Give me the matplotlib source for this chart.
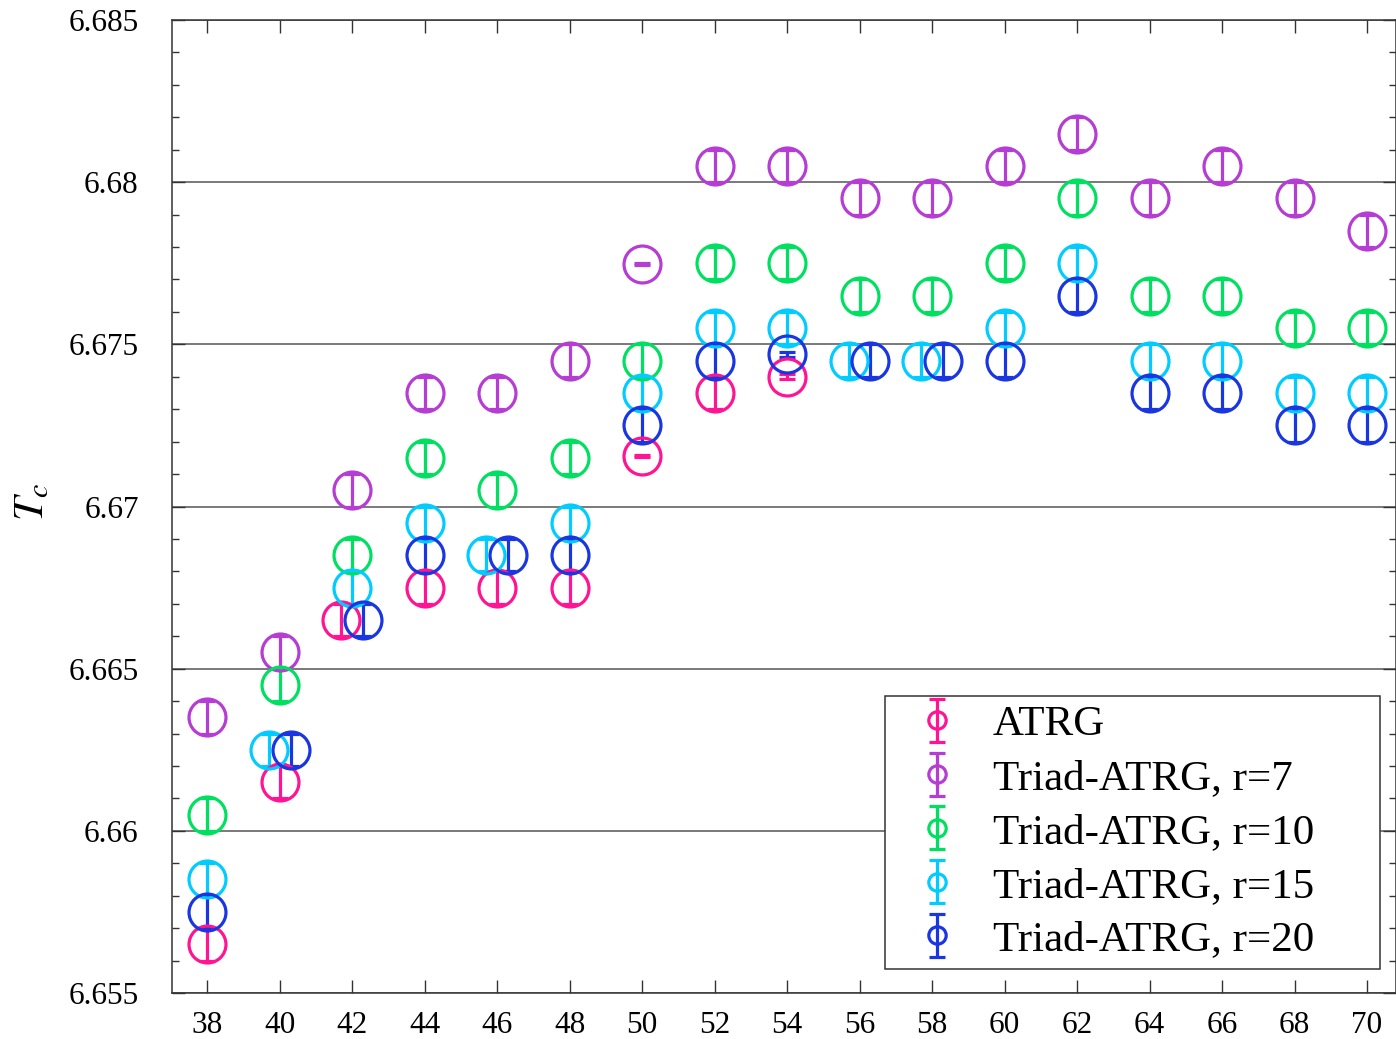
import numpy as np
import matplotlib
matplotlib.use("Agg")
import matplotlib.pyplot as plt
from matplotlib.ticker import MultipleLocator, FuncFormatter

plt.rcParams['font.family'] = ['Liberation Serif', 'DejaVu Serif']
plt.rcParams['mathtext.fontset'] = 'stix'

# --- data ---
labels = ['ATRG', 'Triad-ATRG, r=7', 'Triad-ATRG, r=10', 'Triad-ATRG, r=15', 'Triad-ATRG, r=20']
colors = ['#ff1493', '#b63dd4', '#00e060', '#00ccff', '#1a36e0']

atrg_x = [38, 40, 41.7, 44, 46, 48, 50, 52, 54]
atrg_y = [6.6565, 6.6615, 6.6665, 6.6675, 6.6675, 6.6675, 6.67155, 6.6735, 6.6740]
atrg_e = [0.0005, 0.0005, 0.0005, 0.0005, 0.0005, 0.0005, 0.00003, 0.0005, 0.00008]

r7_x = [38, 40, 42, 44, 46, 48, 50, 52, 54, 56, 58, 60, 62, 64, 66, 68, 70]
r7_y = [6.6635, 6.6655, 6.6705, 6.6735, 6.6735, 6.6745, 6.67748, 6.6805, 6.6805,
        6.6795, 6.6795, 6.6805, 6.6815, 6.6795, 6.6805, 6.6795, 6.6785]
r7_e = [0.0005] * 6 + [0.00003] + [0.0005] * 10

r10_x = [38, 40, 42, 44, 46, 48, 50, 52, 54, 56, 58, 60, 62, 64, 66, 68, 70]
r10_y = [6.6605, 6.6645, 6.6685, 6.6715, 6.6705, 6.6715, 6.6745, 6.6775, 6.6775,
         6.6765, 6.6765, 6.6775, 6.6795, 6.6765, 6.6765, 6.6755, 6.6755]
r10_e = [0.0005] * 17

r15_x = [38, 39.7, 42, 44, 45.7, 48, 50, 52, 54, 55.7, 57.7, 60, 62, 64, 66, 68, 70]
r15_y = [6.6585, 6.6625, 6.6675, 6.6695, 6.6685, 6.6695, 6.6735, 6.6755, 6.6755,
         6.6745, 6.6745, 6.6755, 6.6775, 6.6745, 6.6745, 6.6735, 6.6735]
r15_e = [0.0005] * 17

r20_x = [38, 40.3, 42.3, 44, 46.3, 48, 50, 52, 54, 56.3, 58.3, 60, 62, 64, 66, 68, 70]
r20_y = [6.6575, 6.6625, 6.6665, 6.6685, 6.6685, 6.6685, 6.6725, 6.6745, 6.67469,
         6.6745, 6.6745, 6.6745, 6.6765, 6.6735, 6.6735, 6.6725, 6.6725]
r20_e = [0.0005] * 8 + [0.00008] + [0.0005] * 8

series = [(atrg_x, atrg_y, atrg_e), (r7_x, r7_y, r7_e), (r10_x, r10_y, r10_e),
          (r15_x, r15_y, r15_e), (r20_x, r20_y, r20_e)]

fig = plt.figure(figsize=(13.96, 10.39), dpi=100)
ax = fig.add_axes([172 / 1396, 1 - 993 / 1039, 1224 / 1396, 973 / 1039])

ax.grid(axis='y', which='major', color='#555555', lw=1.1, zorder=0)
ax.set_axisbelow(True)

for (xs, ys, es), lab, c in zip(series, labels, colors):
    ax.errorbar(xs, ys, yerr=es, fmt='o', ms=26.6, mfc='none', mec=c, mew=2.3,
                ecolor=c, elinewidth=2.3, capsize=6, capthick=2.3, label=lab, zorder=3)

ax.set_xlim(37.03, 70.8)
ax.set_ylim(6.655, 6.685)
ax.xaxis.set_major_locator(MultipleLocator(2))
ax.yaxis.set_major_locator(MultipleLocator(0.005))
ax.yaxis.set_minor_locator(MultipleLocator(0.001))
ax.yaxis.set_major_formatter(FuncFormatter(lambda v, p: f'{v:.3f}'.rstrip('0')))

ax.tick_params(which='both', direction='in', top=True, right=True, color='#333333', width=1.0)
ax.tick_params(which='major', length=9.5)
ax.tick_params(which='minor', length=5)
ax.tick_params(axis='x', labelsize=22.5, pad=13)
ax.tick_params(axis='y', labelsize=22.5, pad=24)
for s in ax.spines.values():
    s.set_color('#333333')
    s.set_linewidth(1.1)

ax.set_ylabel(r'$T_c$', fontsize=31, rotation=90)
ax.yaxis.set_label_coords(-0.098, 0.505)

leg = ax.legend(loc='lower left', bbox_to_anchor=(713 / 1224, 24 / 973, 495 / 1224, 279 / 973),
                mode='expand', fontsize=31, markerscale=0.47, frameon=True, fancybox=False,
                edgecolor='#333333', framealpha=1, borderaxespad=0, handlelength=1.97,
                handletextpad=0.31, labelspacing=0.34, borderpad=0.22)
leg.get_frame().set_linewidth(1.1)

fig.savefig('out.png', dpi=100)
